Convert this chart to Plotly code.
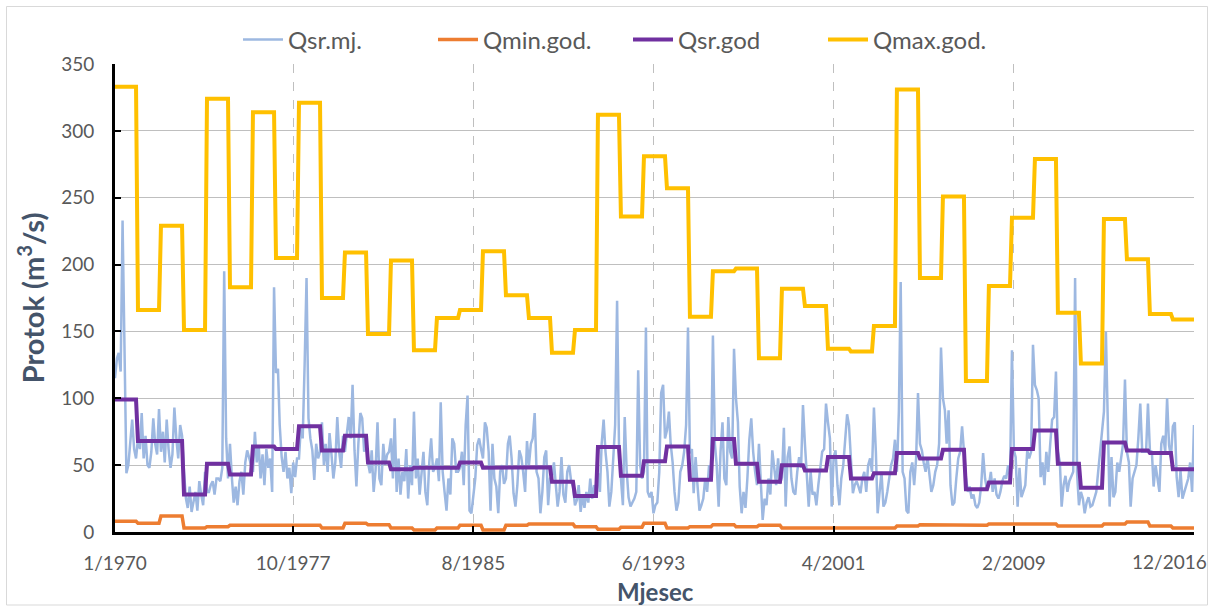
import pandas as pd
import plotly.graph_objects as go

years = list(range(1970, 2017))

# Monthly mean discharge (Qsr.mj.), one row of 12 months per year
qsr_mj_rows = [
    [115, 130, 134, 120, 233, 120, 44, 50, 65, 84, 62, 55],   # 1970
    [70, 62, 89, 55, 72, 50, 48, 60, 85, 66, 58, 92],         # 1971
    [60, 75, 52, 84, 62, 48, 58, 93, 70, 55, 80, 72],         # 1972
    [45, 25, 18, 34, 15, 22, 30, 16, 38, 28, 20, 45],         # 1973
    [30, 30, 35, 38, 28, 40, 40, 38, 48, 195, 70, 40],        # 1974
    [66, 40, 22, 34, 20, 38, 45, 28, 52, 61, 55, 50],         # 1975
    [45, 75, 52, 65, 40, 58, 35, 62, 48, 55, 30, 183],        # 1976
    [119, 122, 80, 56, 45, 60, 40, 48, 29, 52, 41, 55],       # 1977
    [55, 80, 70, 126, 190, 85, 70, 61, 39, 66, 55, 60],       # 1978
    [82, 50, 66, 45, 74, 58, 40, 52, 86, 60, 48, 72],         # 1979
    [60, 74, 86, 70, 110, 61, 34, 66, 89, 85, 60, 70],        # 1980
    [52, 44, 61, 30, 46, 82, 40, 35, 66, 50, 58, 60],         # 1981
    [70, 40, 85, 30, 55, 28, 45, 38, 62, 25, 50, 35],         # 1982
    [90, 40, 55, 28, 45, 60, 30, 20, 52, 70, 45, 48],         # 1983
    [55, 38, 97, 45, 30, 16, 40, 28, 70, 66, 45, 45],         # 1984
    [48, 60, 35, 80, 102, 16, 14, 30, 40, 65, 70, 62],        # 1985
    [55, 82, 78, 60, 16, 66, 40, 34, 14, 45, 50, 36],         # 1986
    [40, 66, 72, 55, 29, 19, 35, 61, 56, 45, 30, 68],         # 1987
    [50, 66, 70, 89, 45, 40, 14, 30, 56, 61, 20, 40],         # 1988
    [41, 52, 35, 19, 30, 56, 28, 22, 45, 50, 38, 34],         # 1989
    [20, 24, 35, 15, 28, 18, 30, 22, 40, 25, 35, 32],         # 1990
    [44, 30, 66, 84, 60, 45, 19, 30, 55, 80, 173, 66],        # 1991
    [40, 20, 86, 46, 26, 19, 22, 25, 30, 121, 50, 40],        # 1992
    [45, 153, 30, 26, 30, 14, 20, 22, 45, 104, 110, 70],      # 1993
    [76, 90, 66, 52, 30, 16, 22, 45, 50, 60, 80, 153],        # 1994
    [59, 62, 29, 56, 35, 16, 20, 25, 40, 30, 50, 45],         # 1995
    [147, 66, 50, 19, 60, 82, 40, 35, 86, 60, 55, 137],       # 1996
    [100, 82, 34, 14, 30, 18, 40, 69, 85, 60, 45, 35],        # 1997
    [66, 30, 9, 25, 20, 40, 28, 61, 45, 35, 55, 36],          # 1998
    [41, 78, 19, 56, 64, 40, 30, 28, 45, 56, 48, 95],         # 1999
    [66, 40, 19, 45, 28, 30, 20, 35, 50, 60, 62, 96],         # 2000
    [82, 70, 19, 56, 61, 35, 20, 40, 50, 66, 88, 80],         # 2001
    [52, 29, 35, 38, 34, 29, 40, 45, 30, 50, 55, 45],         # 2002
    [93, 60, 14, 30, 45, 19, 22, 30, 40, 50, 55, 69],         # 2003
    [45, 90, 187, 45, 40, 16, 14, 45, 52, 35, 55, 104],       # 2004
    [66, 61, 52, 45, 56, 40, 30, 35, 45, 50, 66, 138],        # 2005
    [100, 91, 66, 91, 35, 20, 22, 40, 55, 60, 79, 60],        # 2006
    [41, 30, 34, 25, 28, 20, 18, 22, 35, 59, 40, 32],         # 2007
    [35, 45, 30, 40, 28, 25, 30, 38, 42, 40, 50, 41],         # 2008
    [136, 61, 56, 19, 48, 26, 30, 35, 61, 55, 60, 140],       # 2009
    [110, 106, 100, 41, 52, 35, 60, 45, 66, 84, 86, 120],     # 2010
    [60, 52, 19, 35, 42, 30, 38, 41, 45, 190, 44, 20],        # 2011
    [30, 25, 14, 22, 26, 19, 20, 25, 30, 45, 60, 80],         # 2012
    [90, 150, 95, 19, 56, 26, 30, 52, 45, 55, 66, 114],       # 2013
    [60, 52, 19, 40, 45, 50, 70, 96, 60, 60, 60, 96],         # 2014
    [61, 60, 34, 50, 40, 30, 66, 72, 60, 100, 65, 56],        # 2015
    [79, 82, 41, 26, 46, 25, 30, 35, 40, 52, 30, 80],         # 2016
]

# Annual values (one per year 1970..2016)
qmin_god = [8, 6.5, 12, 3, 4, 5, 5.5, 5, 5, 3, 6.5, 5.5, 3, 1.5, 3, 5,
            1.5, 5, 6, 6, 4, 2, 3.5, 6.5, 3, 4, 5.5, 4, 5, 3, 2.5, 2.5,
            2.5, 3, 4.5, 5.5, 5, 5, 6, 6.5, 6, 4.5, 4.5, 6, 7.5, 4.5, 3]
qsr_god = [99, 68, 68, 28, 51, 43, 64, 62, 79, 61, 72, 52, 47, 48, 48, 52,
           48, 48, 48.5, 37.5, 27, 63.5, 42, 53, 64, 39, 69.5, 51, 37.5, 50,
           46, 56, 40, 44, 59, 55, 61.5, 32, 37, 62, 76, 51, 33, 67, 61, 59, 47]
qmax_god = [333, 166, 229, 151, 324, 183, 314, 205, 321, 175, 209, 148, 203,
            136, 160, 166, 210, 177, 160, 134, 151, 312, 236, 281, 257, 161,
            195, 197, 130, 182, 169, 137, 135, 154, 331, 190, 251, 113, 184,
            235, 279, 164, 126, 234, 204, 163, 159]

tick_dates = ["1970-01-01", "1977-10-01", "1985-08-01", "1993-06-01",
              "2001-04-01", "2009-02-01", "2016-12-01"]
tick_labels = ["1/1970", "10/1977", "8/1985", "6/1993", "4/2001", "2/2009", "12/2016"]

months = pd.date_range("1970-01-01", periods=len(years) * 12, freq="MS")
qsr_mj = [v for row in qsr_mj_rows for v in row]
qmin_m = [v for v in qmin_god for _ in range(12)]
qsr_m = [v for v in qsr_god for _ in range(12)]
qmax_m = [v for v in qmax_god for _ in range(12)]

FONT = "Lato, 'Open Sans', sans-serif"
TICK_COLOR = "#595959"
TITLE_COLOR = "#44546A"

fig = go.Figure()
fig.add_trace(go.Scatter(x=months, y=qsr_mj, name="Qsr.mj.", mode="lines",
                         line=dict(color="#9DB8E1", width=2.5)))
fig.add_trace(go.Scatter(x=months, y=qmin_m, name="Qmin.god.", mode="lines",
                         line=dict(color="#ED7D31", width=3.5)))
fig.add_trace(go.Scatter(x=months, y=qsr_m, name="Qsr.god", mode="lines",
                         line=dict(color="#7030A0", width=4)))
fig.add_trace(go.Scatter(x=months, y=qmax_m, name="Qmax.god.", mode="lines",
                         line=dict(color="#FFC000", width=4)))

L, R, T, B = 115, 19, 64, 76
W, H = 1213, 608
pw, ph = W - L - R, H - T - B

# last tick label is drawn as an annotation shifted left so it stays inside the chart
axis_ticktext = tick_labels[:-1] + [""]
LABEL_Y = 561  # pixel centre of the x tick labels

fig.update_layout(
    width=W, height=H,
    margin=dict(l=L, r=R, t=T, b=B, autoexpand=False),
    paper_bgcolor="white", plot_bgcolor="white",
    font=dict(family=FONT, color=TICK_COLOR, size=19),
    showlegend=True,
    legend=dict(orientation="h", x=(238 - L) / pw, xanchor="left",
                y=(H - B - 40) / ph, yanchor="middle",
                font=dict(size=24, color=TICK_COLOR),
                entrywidth=140, entrywidthmode="pixels",
                itemwidth=40, bgcolor="rgba(0,0,0,0)"),
    xaxis=dict(
        type="date", automargin=False,
        range=[tick_dates[0], "2016-12-01 06:00"],
        tickvals=tick_dates, ticktext=axis_ticktext,
        showgrid=True, gridcolor="#BFBFBF", griddash="dash", gridwidth=1,
        showline=True, linecolor="black", linewidth=3,
        ticks="inside", ticklen=6, tickwidth=2, tickcolor="black",
        ticklabelstandoff=12,
        tickfont=dict(size=19, color=TICK_COLOR),
        zeroline=False,
    ),
    yaxis=dict(
        range=[0, 350], tickvals=[0, 50, 100, 150, 200, 250, 300, 350],
        automargin=False,
        showgrid=True, gridcolor="#BFBFBF", gridwidth=1,
        showline=True, linecolor="black", linewidth=3,
        ticks="inside", ticklen=6, tickwidth=2, tickcolor="black",
        ticklabelstandoff=14,
        tickfont=dict(size=19, color=TICK_COLOR),
        title=dict(text="<b>Protok (m<sup>3</sup>/s)</b>", standoff=8,
                   font=dict(size=29, color=TITLE_COLOR)),
        zeroline=False,
    ),
    annotations=[
        dict(text=tick_labels[-1], xref="paper", yref="paper",
             x=(1209 - L) / pw, xanchor="right",
             y=(H - B - LABEL_Y) / ph, yanchor="middle",
             showarrow=False, font=dict(size=19, color=TICK_COLOR)),
        dict(text="<b>Mjesec</b>", xref="paper", yref="paper",
             x=(655 - L) / pw, xanchor="center",
             y=(H - B - 591) / ph, yanchor="middle",
             showarrow=False, font=dict(size=24, color=TITLE_COLOR)),
    ],
)

# outer chart frame
fig.add_shape(type="rect", xref="paper", yref="paper",
              x0=(6.5 - L) / pw, x1=(1207.5 - L) / pw,
              y0=-(B - 3) / ph, y1=(H - B - 6.5) / ph,
              line=dict(color="#D9D9D9", width=1), layer="below")

fig.write_html("out.html", config={"displayModeBar": False},
               post_script="document.body.style.margin='0';document.body.style.overflow='hidden';")
